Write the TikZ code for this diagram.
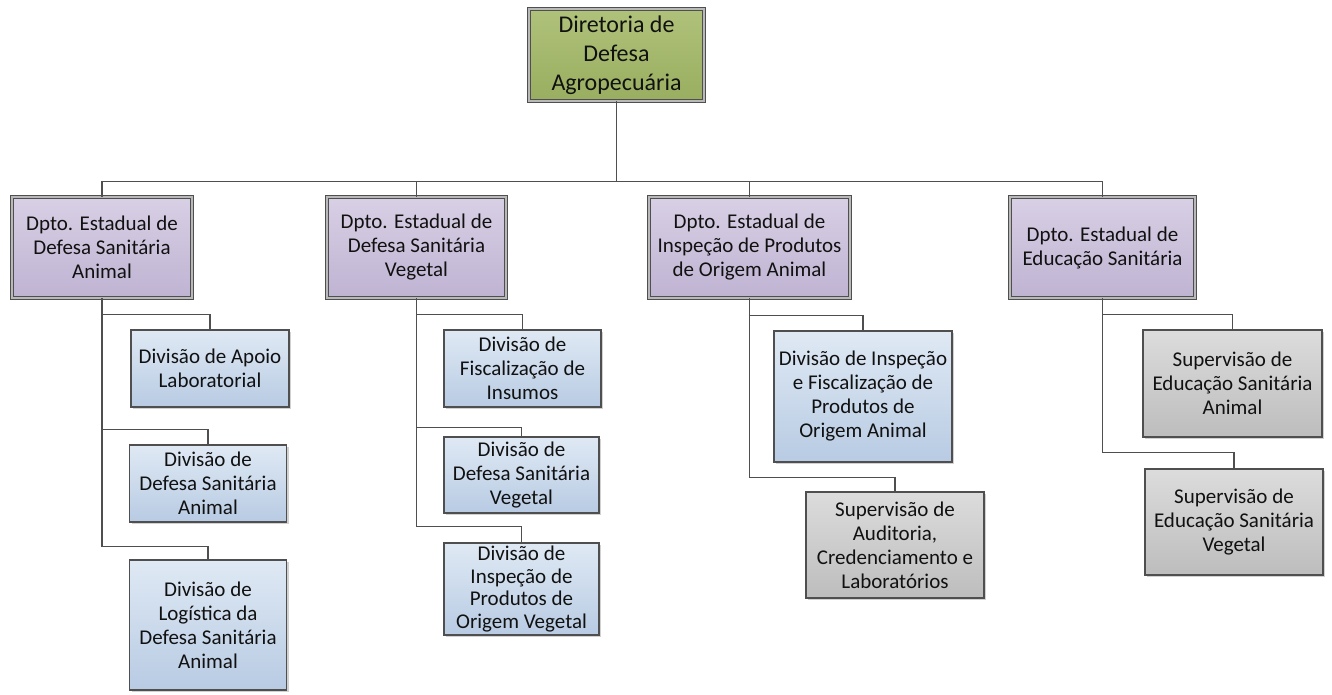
\documentclass[tikz,border=0pt]{standalone}
\usepackage{fontspec}
\setmainfont{Carlito}
\usetikzlibrary{shadows}
\definecolor{lineC}{HTML}{4F4F4F}
\definecolor{txtC}{HTML}{111111}
\definecolor{grTop}{HTML}{B0C27A}
\definecolor{grBot}{HTML}{99AE60}
\definecolor{liTop}{HTML}{D8D0E5}
\definecolor{liBot}{HTML}{BFB3D2}
\definecolor{blTop}{HTML}{DFE9F4}
\definecolor{blBot}{HTML}{B8CBE3}
\definecolor{gyTop}{HTML}{DCDCDC}
\definecolor{gyBot}{HTML}{BDBDBD}
\tikzset{
  box/.style={rectangle, align=center, text=txtC, inner sep=1pt,
    font=\fontsize{21}{24}\selectfont,
    drop shadow={shadow xshift=2pt, shadow yshift=-2pt, fill=black, opacity=0.18}},
  headbox/.style={box, draw=lineC, line width=0.9pt, double=gray!55, double distance=1.6pt},
  subbox/.style={box, draw=lineC, line width=1.1pt},
  greenbox/.style={headbox, top color=grTop, bottom color=grBot, font=\fontsize{24}{29}\selectfont},
  lilacbox/.style={headbox, top color=liTop, bottom color=liBot},
  bluebox/.style={subbox, top color=blTop, bottom color=blBot},
  graybox/.style={subbox, top color=gyTop, bottom color=gyBot},
  conn/.style={draw=lineC, line width=1.6pt}
}
\begin{document}
\begin{tikzpicture}[x=1pt,y=-1pt]
\useasboundingbox[fill=white] (0,0) rectangle (1332,695);

% top
\node[greenbox, minimum width=175pt, minimum height=92pt] (dir) at (616.5,55) {Diretoria de\\Defesa\\Agropecuária};

% departments
\node[lilacbox, minimum width=180pt, minimum height=101pt] (d1) at (102,247.5) {Dpto. Estadual de\\Defesa Sanitária\\Animal};
\node[lilacbox, minimum width=179pt, minimum height=101pt] (d2) at (416.5,247.5) {Dpto. Estadual de\\Defesa Sanitária\\Vegetal};
\node[lilacbox, minimum width=201pt, minimum height=101pt] (d3) at (749.5,247.5) {Dpto. Estadual de\\Inspeção de Produtos\\de Origem Animal};
\node[lilacbox, minimum width=185pt, minimum height=101pt] (d4) at (1102.5,247.5) {Dpto. Estadual de\\Educação Sanitária};

% column 1
\node[bluebox, minimum width=158pt, minimum height=77pt] (c1a) at (210,368.5) {Divisão de Apoio\\Laboratorial};
\node[bluebox, minimum width=157pt, minimum height=77pt] (c1b) at (208,483.5) {Divisão de\\Defesa Sanitária\\Animal};
\node[bluebox, minimum width=157pt, minimum height=130pt] (c1c) at (208,625) {Divisão de\\Logística da\\Defesa Sanitária\\Animal};

% column 2
\node[bluebox, minimum width=157pt, minimum height=77pt] (c2a) at (522.5,368.5) {Divisão de\\Fiscalização de\\Insumos};
\node[bluebox, minimum width=155pt, minimum height=76pt] (c2b) at (521.5,475) {Divisão de\\Defesa Sanitária\\Vegetal};
\node[bluebox, minimum width=155pt, minimum height=92pt, font=\fontsize{21}{22.5}\selectfont] (c2c) at (521.5,589) {Divisão de\\Inspeção de\\Produtos de\\Origem Vegetal};

% column 3
\node[bluebox, minimum width=178pt, minimum height=131pt] (c3a) at (863,396.5) {Divisão de Inspeção\\e Fiscalização de\\Produtos de\\Origem Animal};
\node[graybox, minimum width=178pt, minimum height=106pt] (c3b) at (895,545) {Supervisão de\\Auditoria,\\Credenciamento e\\Laboratórios};

% column 4
\node[graybox, minimum width=179pt, minimum height=107pt] (c4a) at (1232.5,383.5) {Supervisão de\\Educação Sanitária\\Animal};
\node[graybox, minimum width=178pt, minimum height=106pt] (c4b) at (1234,522) {Supervisão de\\Educação Sanitária\\Vegetal};

% connectors top level
\foreach \d in {d1,d2,d3,d4}
  \draw[conn] (dir.south) |- ([yshift=15pt]\d.north) -- (\d.north);

% column connectors
\draw[conn] (d1.south) |- ([yshift=15pt]c1a.north) -- (c1a.north);
\draw[conn] (d1.south) |- ([yshift=15pt]c1b.north) -- (c1b.north);
\draw[conn] (d1.south) |- ([yshift=13pt]c1c.north) -- (c1c.north);

\draw[conn] (d2.south) |- ([yshift=15pt]c2a.north) -- (c2a.north);
\draw[conn] (d2.south) |- ([yshift=9pt]c2b.north) -- (c2b.north);
\draw[conn] (d2.south) |- ([yshift=16pt]c2c.north) -- (c2c.north);

\draw[conn] (d3.south) |- ([yshift=15pt]c3a.north) -- (c3a.north);
\draw[conn] (d3.south) |- ([yshift=14pt]c3b.north) -- (c3b.north);

\draw[conn] (d4.south) |- ([yshift=15pt]c4a.north) -- (c4a.north);
\draw[conn] (d4.south) |- ([yshift=16pt]c4b.north) -- (c4b.north);
\end{tikzpicture}
\end{document}
